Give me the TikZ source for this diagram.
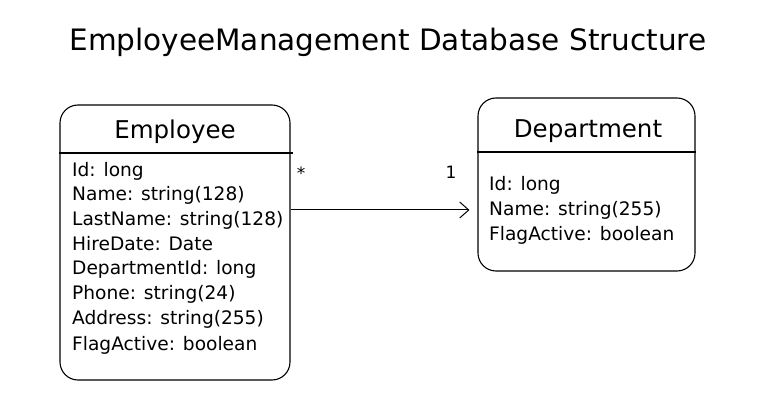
\documentclass[tikz,border=0pt]{standalone}
\usepackage{fontspec}
\setmainfont{DejaVu Sans}
\usetikzlibrary{arrows.meta,positioning}

\tikzset{
  table/.style={draw, line width=1.1pt, rounded corners=18pt, inner sep=0pt},
  tablehead/.style={font=\fontsize{24.5}{28}\selectfont},
  attr/.style={anchor=base west, inner sep=0pt, font=\fontsize{18.6}{21}\selectfont},
  mult/.style={font=\fontsize{17}{20}\selectfont}
}

\begin{document}
\begin{tikzpicture}[x=1pt,y=-1pt]
\useasboundingbox (0,0) rectangle (777,414);

\node [font=\fontsize{29.5}{34}\selectfont] (title) at (388,42) {EmployeeManagement Database Structure};

\node [table, minimum width=230pt, minimum height=275pt] (emp) at (175,242.5) {};
\node [tablehead] (emphead) at (175,132) {Employee};
\draw [line width=1.1pt] (emp.west |- 0,153) -- (293,153);

\node [attr] (e1) at (72,177) {Id: long};
\node [attr] (e2) at (72,201) {Name: string(128)};
\node [attr] (e3) at (72,226) {LastName: string(128)};
\node [attr] (e4) at (72,251) {HireDate: Date};
\node [attr] (e5) at (72,275) {DepartmentId: long};
\node [attr] (e6) at (72,300) {Phone: string(24)};
\node [attr] (e7) at (72,325) {Address: string(255)};
\node [attr] (e8) at (72,350) {FlagActive: boolean};

\node [table, minimum width=217pt, minimum height=173pt] (dept) at (586.5,184.5) {};
\node [tablehead] (depthead) at (588,131) {Department};
\draw [line width=1.1pt] (dept.west |- 0,152) -- (dept.east |- 0,152);

\node [attr] (d1) at (489,191) {Id: long};
\node [attr] (d2) at (489,216) {Name: string(255)};
\node [attr] (d3) at (489,241) {FlagActive: boolean};

\draw [line width=1pt, -{Straight Barb[length=9pt,width=16pt]}, shorten >=8pt] (emp.east |- 0,210) -- (dept.west |- 0,210);

\node [mult] (many) at (301,173) {*};
\node [mult] (one) at (451,172) {1};
\end{tikzpicture}
\end{document}
